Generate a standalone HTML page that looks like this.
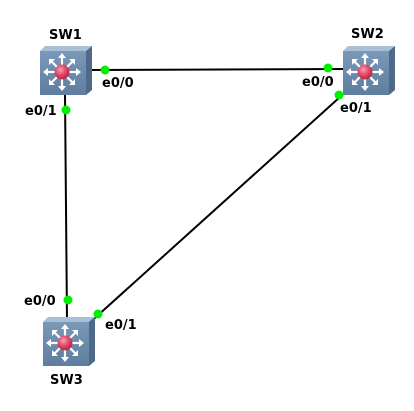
<!DOCTYPE html>
<html><head><style>body{margin:0;background:#fff}svg{display:block}</style></head><body>
<svg width="414" height="411" viewBox="0 0 414 411" xmlns="http://www.w3.org/2000/svg">
<defs>
<radialGradient id="rg" cx="0.4" cy="0.35" r="0.7"><stop offset="0" stop-color="#f8a0b0"/><stop offset="0.5" stop-color="#e04a66"/><stop offset="1" stop-color="#b02040"/></radialGradient>
<linearGradient id="fg" x1="0" y1="0" x2="0" y2="1"><stop offset="0" stop-color="#7a98b8"/><stop offset="1" stop-color="#5f7e9f"/></linearGradient>
<g id="sw">
<polygon points="0,5 5,0 52,0 46,5" fill="#a9bfd6"/>
<polygon points="46,5 52,0 52,44 46,49" fill="#4f6a88"/>
<rect x="0" y="5" width="46" height="44" fill="url(#fg)"/>
<g stroke="#fff" stroke-width="2.2" fill="#fff">
<line x1="22" y1="26" x2="22" y2="10"/><line x1="22" y1="26" x2="22" y2="42"/>
<line x1="22" y1="26" x2="6" y2="26"/><line x1="22" y1="26" x2="38" y2="26"/>
<line x1="22" y1="26" x2="11" y2="15"/><line x1="22" y1="26" x2="33" y2="15"/>
<line x1="22" y1="26" x2="11" y2="37"/><line x1="22" y1="26" x2="33" y2="37"/>
</g>
<g fill="#fff">
<polygon points="22,7 18,12 26,12"/><polygon points="22,45 18,40 26,40"/>
<polygon points="3,26 8,22 8,30"/><polygon points="41,26 36,22 36,30"/>
<polygon points="9,13 15,13 9,19"/><polygon points="35,13 29,13 35,19"/>
<polygon points="9,39 15,39 9,33"/><polygon points="35,39 29,39 35,33"/>
</g>
<circle cx="22" cy="26" r="7.5" fill="url(#rg)"/>
</g>
</defs>
<g stroke="#000" stroke-width="2">
<line x1="88" y1="70" x2="345" y2="69"/>
<line x1="65" y1="95" x2="67" y2="320"/>
<line x1="350" y1="88" x2="86" y2="326"/>
</g>
<use href="#sw" x="40" y="46"/>
<use href="#sw" x="343" y="46"/>
<use href="#sw" x="43" y="317"/>
<g fill="#00ee00">
<circle cx="105" cy="70" r="4.5"/><circle cx="328" cy="68" r="4.5"/>
<circle cx="66" cy="110" r="4.5"/><circle cx="339" cy="95" r="4.5"/>
<circle cx="68" cy="300" r="4.5"/><circle cx="98" cy="314" r="4.5"/>
</g>
<g font-family="DejaVu Sans, sans-serif" font-weight="bold" font-size="13" fill="#000">
<text x="49" y="39">SW1</text>
<text x="351" y="38">SW2</text>
<text x="50" y="384">SW3</text>
<text x="102" y="87">e0/0</text>
<text x="302" y="86">e0/0</text>
<text x="25" y="115">e0/1</text>
<text x="340" y="112">e0/1</text>
<text x="24" y="305">e0/0</text>
<text x="105" y="329">e0/1</text>
</g>
</svg>
</body></html>
